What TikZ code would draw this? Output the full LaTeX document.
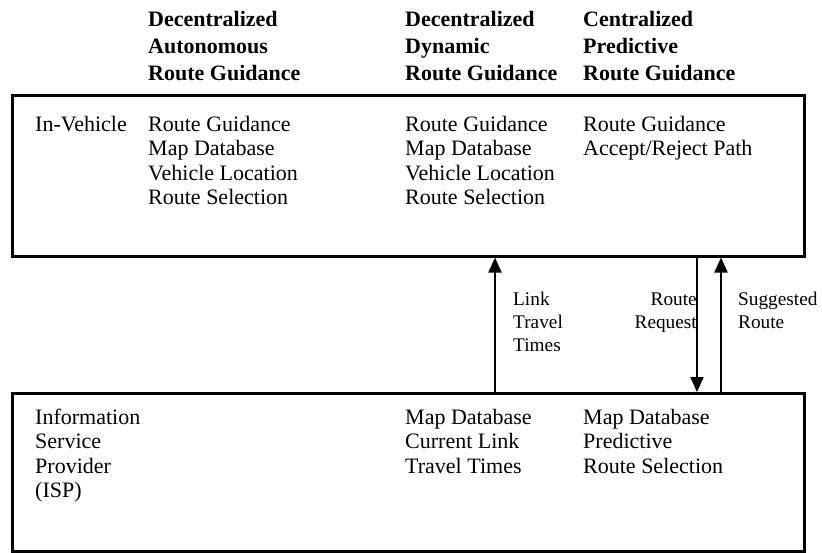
\documentclass[tikz,border=0pt]{standalone}
\usepackage{fontspec}
\setmainfont{Liberation Serif}
\usetikzlibrary{arrows.meta}
\begin{document}
\begin{tikzpicture}[x=1pt,y=-1pt,
  box/.style={draw, line width=2.5pt, rectangle, inner sep=0pt, anchor=north west},
  txt/.style={inner sep=0pt, anchor=base west, font=\fontsize{22}{24}\selectfont},
  hdr/.style={inner sep=0pt, anchor=base west, font=\fontsize{22}{24}\selectfont\bfseries},
  ltxt/.style={inner sep=0pt, anchor=base west, font=\fontsize{19.3}{22}\selectfont},
  rtxt/.style={ltxt, anchor=base east},
  arr/.style={line width=2pt, -{Triangle[width=13pt,length=15pt]}}]
\useasboundingbox (0,0) rectangle (822,552);
% boxes
\node[box, minimum width=792pt, minimum height=161pt] (iv) at (11,94) {};
\node[box, minimum width=792pt, minimum height=158pt] (isp) at (11,392) {};
% headers
\foreach \t [count=\i] in {Decentralized, Autonomous, Route Guidance}
  \node[hdr] (ha\i) at (148, 26+27*\i-27) {\t};
\foreach \t [count=\i] in {Decentralized, Dynamic, Route Guidance}
  \node[hdr] (hb\i) at (405, 26+27*\i-27) {\t};
\foreach \t [count=\i] in {Centralized, Predictive, Route Guidance}
  \node[hdr] (hc\i) at (583, 26+27*\i-27) {\t};
% in-vehicle
\node[txt] (ivl) at (35,131) {In-Vehicle};
\foreach \t [count=\i] in {Route Guidance, Map Database, Vehicle Location, Route Selection}
  \node[txt] (va\i) at (148, 131+24.5*\i-24.5) {\t};
\foreach \t [count=\i] in {Route Guidance, Map Database, Vehicle Location, Route Selection}
  \node[txt] (vb\i) at (405, 131+24.5*\i-24.5) {\t};
\foreach \t [count=\i] in {Route Guidance, Accept/Reject Path}
  \node[txt] (vc\i) at (583, 131+24.5*\i-24.5) {\t};
% ISP
\foreach \t [count=\i] in {Information, Service, Provider, (ISP)}
  \node[txt] (sa\i) at (35, 424+24.5*\i-24.5) {\t};
\foreach \t [count=\i] in {Map Database, Current Link, Travel Times}
  \node[txt] (sb\i) at (405, 424+24.5*\i-24.5) {\t};
\foreach \t [count=\i] in {Map Database, Predictive, Route Selection}
  \node[txt] (sc\i) at (583, 424+24.5*\i-24.5) {\t};
% arrows
\coordinate (lx) at (495,0);
\coordinate (rx) at (697,0);
\coordinate (sx) at (721,0);
\draw[arr] (isp.north -| lx) -- (iv.south -| lx);
\draw[arr] (iv.south -| rx) -- (isp.north -| rx);
\draw[arr] (isp.north -| sx) -- (iv.south -| sx);
% arrow labels
\foreach \t [count=\i] in {Link, Travel, Times}
  \node[ltxt] (ll\i) at (513, 305+23*\i-23) {\t};
\foreach \t [count=\i] in {Route, Request}
  \node[rtxt] (rl\i) at (697, 305+23*\i-23) {\t};
\foreach \t [count=\i] in {Suggested, Route}
  \node[ltxt] (sl\i) at (738, 305+23*\i-23) {\t};
\end{tikzpicture}
\end{document}
